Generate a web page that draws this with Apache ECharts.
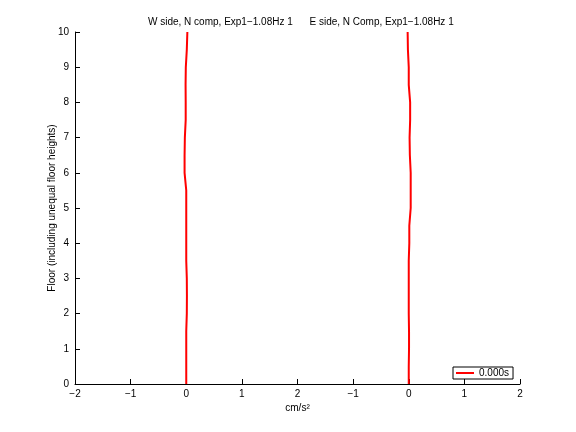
<!DOCTYPE html>
<html><head><meta charset="utf-8">
<script src="https://cdn.jsdelivr.net/npm/echarts@6/dist/echarts.min.js"></script>
<style>html,body{margin:0;padding:0;background:#fff}#c{width:576px;height:432px}</style>
</head><body><div id="c"></div>
<script>
const floors = [0,0.5,1,1.5,2,2.5,3,3.5,4,4.5,5,5.5,6,6.5,7,7.5,8,8.5,9,9.5,10];
const wAccel = [0,0,0,0,0.01,0.012,0.01,0,0,0,0,0,-0.03,-0.03,-0.025,-0.01,-0.01,-0.012,-0.008,0.01,0.02];
const eAccel = [0,0,0.005,0.005,0,0,0,0,0.01,0.01,0.035,0.035,0.035,0.02,0.015,0.025,0.025,0,0,-0.015,-0.02];
const panelOffset = 4; // right panel shifted by 4 units on the shared axis
const xTicks = [-2,-1,0,1,2,-1,0,1,2];
const yTicks = [0,1,2,3,4,5,6,7,8,9,10];
const titleW = 'W side, N comp, Exp1\u22121.08Hz 1';
const titleE = 'E side, N Comp, Exp1\u22121.08Hz 1';
const legendName = '0.000s';
const font = 'Liberation Sans, Arial, sans-serif';

const chart = echarts.init(document.getElementById('c'), null, {renderer:'canvas'});
chart.setOption({
  animation:false,
  backgroundColor:'#fff',
  title:{text: titleW + '      ' + titleE, left:148, top:17, padding:0,
    textStyle:{fontFamily:font,fontSize:10,fontWeight:'normal',color:'#000'}},
  grid:{left:75,right:56,top:32,bottom:48,containLabel:false},
  legend:{data:[legendName], left:453, top:367, orient:'vertical',
    borderColor:'#000', borderWidth:1, borderRadius:0, backgroundColor:'#fff',
    padding:[1,4,1,3], itemWidth:18, itemHeight:2, itemGap:0, icon:'rect',
    textStyle:{fontFamily:font,fontSize:10,color:'#000'}},
  xAxis:{type:'value', min:-2, max:6, interval:1,
    name:'cm/s\u00b2', nameLocation:'middle', nameGap:19, nameMoveOverlap:false,
    nameTextStyle:{fontFamily:font,fontSize:10,color:'#000'},
    axisLine:{show:true,onZero:false,lineStyle:{color:'#000',width:1}},
    axisTick:{show:true,inside:true,length:5,lineStyle:{color:'#000'}},
    axisLabel:{fontFamily:font,fontSize:10,color:'#000',margin:5,
      formatter:v=>{const i=Math.round(v+2);return xTicks[i]!==undefined?String(xTicks[i]).replace('-','\u2212'):'';}},
    splitLine:{show:false}},
  yAxis:{type:'value', min:0, max:10, interval:1,
    name:'Floor (including unequal floor heights)', nameLocation:'middle', nameGap:18, nameMoveOverlap:false,
    nameTextStyle:{fontFamily:font,fontSize:10,color:'#000'},
    axisLine:{show:true,onZero:false,lineStyle:{color:'#000',width:1}},
    axisTick:{show:true,inside:true,length:5,lineStyle:{color:'#000'}},
    axisLabel:{fontFamily:font,fontSize:10,color:'#000',margin:6,
      formatter:v=>String(yTicks[Math.round(v)])},
    splitLine:{show:false}},
  series:[
    {name:legendName,type:'line',showSymbol:false,symbol:'none',
      lineStyle:{color:'#ff0000',width:2},itemStyle:{color:'#ff0000'},
      data:floors.map((f,i)=>[wAccel[i],f])},
    {name:legendName,type:'line',showSymbol:false,symbol:'none',
      lineStyle:{color:'#ff0000',width:2},itemStyle:{color:'#ff0000'},
      data:floors.map((f,i)=>[eAccel[i]+panelOffset,f])}
  ]
});
</script></body></html>
